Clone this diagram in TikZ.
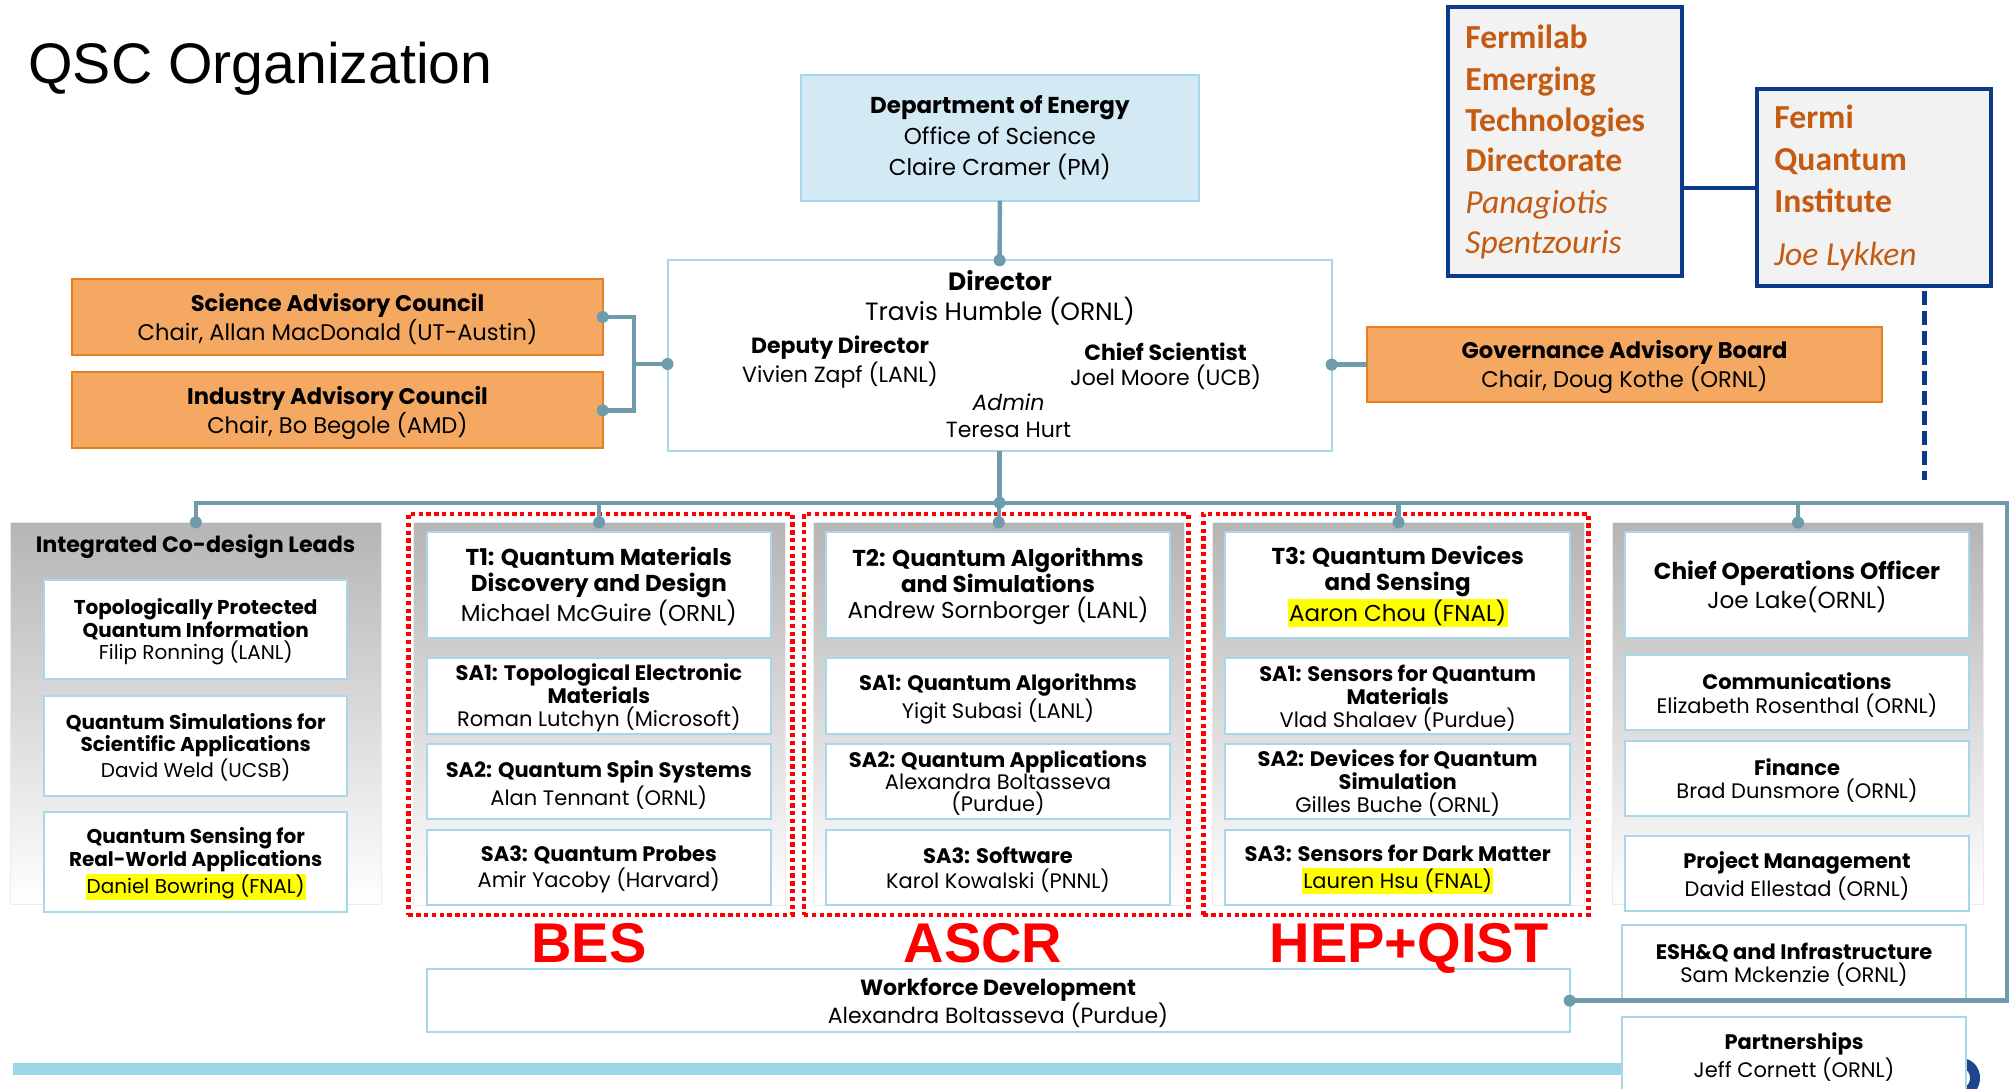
\documentclass[tikz,border=0pt]{standalone}
\usepackage{fontspec}
\setmainfont{Poppins}
\newfontfamily\arialf{Liberation Sans}
\newfontfamily\calib{Carlito}
\definecolor{connc}{HTML}{6F9CAD}
\definecolor{lbl}{HTML}{A8D6EA}
\definecolor{doefill}{HTML}{D3EAF5}
\definecolor{orfill}{HTML}{F4A862}
\definecolor{ordraw}{HTML}{E3801F}
\definecolor{navy}{HTML}{0B3A8C}
\definecolor{fermor}{HTML}{C55A11}
\definecolor{fermfill}{HTML}{F2F2F2}
\definecolor{pgray}{HTML}{B5B5B5}
\definecolor{hly}{HTML}{FFFF00}
\definecolor{redd}{HTML}{FF0000}
\definecolor{barblue}{HTML}{9ED5E9}
\definecolor{logoblue}{HTML}{1F4590}
\newcommand\fs[2]{\fontsize{#1}{#2}\selectfont}
\newcommand\hl[1]{{\setlength\fboxsep{0.6pt}\colorbox{hly}{#1}}}
\newcommand\rbox[6]{\node[#6,anchor=north west,minimum width={(#4-#2)*0.5pt},minimum height={(#5-#3)*0.5pt}] (#1) at (#2,#3) {};}
\tikzset{
  boxbase/.style={inner sep=0pt,outer sep=0pt,rectangle},
  lbbox/.style={boxbase,draw=lbl,line width=1pt,fill=white},
  doebox/.style={boxbase,draw=lbl,line width=1pt,fill=doefill},
  orbox/.style={boxbase,draw=ordraw,line width=1pt,fill=orfill},
  fermbox/.style={boxbase,draw=navy,line width=2pt,fill=fermfill},
  panel/.style={boxbase,top color=pgray,bottom color=white,draw=black!8,line width=0.5pt},
  reddots/.style={boxbase,draw=redd,line width=2.2pt,dash pattern=on 2.2pt off 1.7pt},
  connl/.style={draw=connc,line width=2.2pt},
  navyl/.style={draw=navy,line width=2pt},
  dot/.style={circle,fill=connc,inner sep=0pt,minimum size=6pt},
  txt/.style={inner sep=0pt,align=center,text=black},
  ferm/.style={inner sep=0pt,anchor=base west,text=fermor,font=\calib\fs{16.8}{20}},
  fermb/.style={ferm,font=\calib\bfseries\fs{16.8}{20}},
  fermi/.style={ferm,font=\calib\itshape\fs{16.8}{20}},
  bigred/.style={inner sep=0pt,anchor=base,text=redd,font=\arialf\bfseries\fs{28}{30}},
}
\begin{document}
\begin{tikzpicture}[x=0.5pt,y=-0.5pt]
\clip (0,0) rectangle (2009,1088);
\fill[white] (0,0) rectangle (2009,1088);
% title
\node[inner sep=0pt,anchor=base west,font=\arialf\fs{28.6}{32}] (title) at (28,83) {QSC Organization};
% top boxes
\rbox{doe}{801}{75}{1198.7}{200.7}{doebox}
\rbox{dir}{667.5}{260.3}{1331.7}{450.7}{lbbox}
\rbox{sac}{72.3}{279}{602.7}{355}{orbox}
\rbox{iac}{72.3}{372.3}{602.7}{448.3}{orbox}
\rbox{gov}{1367}{327.3}{1882}{402}{orbox}
\rbox{fetd}{1448}{7.3}{1682.4}{275.7}{fermbox}
\rbox{fqi}{1757}{89.3}{1990.7}{285.7}{fermbox}
% leads
\rbox{leads}{10.7}{522.3}{381}{904.3}{panel}
\rbox{l1}{44.3}{580}{347}{679.3}{lbbox}
\rbox{l2}{44.3}{696}{347}{795.7}{lbbox}
\rbox{l3}{44.3}{811.7}{347}{912}{lbbox}
% BES
\rbox{besR}{408.3}{514}{792.3}{915}{reddots}
\rbox{besP}{413.3}{522.3}{785}{905}{panel}
\rbox{t1}{426.7}{532.3}{771}{638}{lbbox}
\rbox{b1}{426.7}{658.3}{771}{734}{lbbox}
\rbox{b2}{426.7}{744}{771}{819.3}{lbbox}
\rbox{b3}{426.7}{830}{771}{905}{lbbox}
% ASCR
\rbox{ascrR}{804}{514}{1188.3}{915}{reddots}
\rbox{ascrP}{813.3}{522.3}{1184.3}{905}{panel}
\rbox{t2}{826}{532.3}{1170.3}{638}{lbbox}
\rbox{a1}{826}{658.3}{1170.3}{734}{lbbox}
\rbox{a2}{826}{744}{1170.3}{819.3}{lbbox}
\rbox{a3}{826}{830}{1170.3}{905}{lbbox}
% HEP
\rbox{hepR}{1203.3}{514}{1588.3}{915}{reddots}
\rbox{hepP}{1212.7}{522.3}{1584.3}{905}{panel}
\rbox{t3}{1225.3}{532.3}{1570}{638}{lbbox}
\rbox{h1}{1225.3}{658.3}{1570}{734}{lbbox}
\rbox{h2}{1225.3}{744}{1570}{819.3}{lbbox}
\rbox{h3}{1225.3}{830}{1570}{905}{lbbox}
% operations
\rbox{opsP}{1612.7}{522.6}{1983.3}{904.4}{panel}
\rbox{coo}{1625}{532.3}{1969.3}{638.1}{lbbox}
\rbox{comm}{1625}{655.2}{1969.3}{730}{lbbox}
\rbox{fin}{1625}{740.5}{1969.3}{815.7}{lbbox}
\rbox{pm}{1625}{835.8}{1969.3}{911.4}{lbbox}
\rbox{esh}{1622.3}{925}{1966}{999.4}{lbbox}
% bottom bar and logo fragment
\fill[barblue] (13,1062.7) rectangle (1622,1075);
\draw[logoblue,line width=5pt] (1960,1063) .. controls (1980,1063) and (1980,1093) .. (1960,1093);
\rbox{part}{1622.3}{1016.8}{1966}{1110}{lbbox}
\rbox{wf}{426.6}{969.3}{1569.7}{1032}{lbbox}
% connectors
\coordinate (busR) at (2006.7,502.7);
\coordinate (brk) at (634,364);
\draw[connl] (doe.south) -- (dir.north);
\draw[connl] (sac.east) -| (brk) |- (iac.east);
\draw[connl] (brk) -- (dir.west |- brk);
\draw[connl] (gov.west) -- (gov.west -| dir.east);
\draw[connl] (leads.north) |- (busR) |- (wf.east);
\draw[connl] (dir.south) -- (dir.south |- busR);
\draw[connl] (besP.north) -- (besP.north |- busR);
\draw[connl] (ascrP.north) -- (ascrP.north |- busR);
\draw[connl] (hepP.north) -- (hepP.north |- busR);
\draw[connl] (opsP.north) -- (opsP.north |- busR);
\node[dot] (dDoe) at (dir.north) {};
\node[dot] (dL) at (dir.west |- brk) {};
\node[dot] (dSac) at (sac.east) {};
\node[dot] (dIac) at (iac.east) {};
\node[dot] (dR) at (gov.west -| dir.east) {};
\node[dot] (dBus) at (dir.south |- busR) {};
\node[dot] (dLeads) at (leads.north) {};
\node[dot] (dBes) at (besP.north) {};
\node[dot] (dAscr) at (ascrP.north) {};
\node[dot] (dHep) at (hepP.north) {};
\node[dot] (dOps) at (opsP.north) {};
\node[dot] (dWf) at (wf.east) {};
% fermilab connectors
\draw[navyl] (fqi.west) -- (fqi.west -| fetd.east);
\coordinate (dtop) at (1924.5,291);
\coordinate (dbot) at (1924.5,480);
\draw[navy,line width=2.2pt,dash pattern=on 7pt off 3pt] (dtop) -- (dbot);
% texts top
\node[txt,font=\fs{11.5}{15.5}] (doeT) at (doe.center) {\textbf{Department of Energy}\\Office of Science\\Claire Cramer (PM)};
\node[txt,font=\fs{12.5}{15}] (dirT) at (1000,297.5) {\textbf{Director}\\Travis Humble (ORNL)};
\node[txt,font=\fs{11}{12.5}] (depT) at (840,362) {\textbf{Deputy Director}\\Vivien Zapf (LANL)};
\node[txt,font=\fs{11}{12.5}] (chfT) at (1165.6,366) {\textbf{Chief Scientist}\\Joel Moore (UCB)};
\node[txt,font=\fs{11}{13.5}] (admT) at (1008.5,415.5) {\textit{Admin}\\Teresa Hurt};
\node[txt,font=\fs{11.3}{12}] (sacT) at (337.5,319) {\textbf{Science Advisory Council}\\Chair, Allan MacDonald (UT-Austin)};
\node[txt,font=\fs{11.3}{12}] (iacT) at (337.5,413) {\textbf{Industry Advisory Council}\\Chair, Bo Begole (AMD)};
\node[txt,font=\fs{11.3}{12}] (govT) at (1624.5,367) {\textbf{Governance Advisory Board}\\Chair, Doug Kothe (ORNL)};
% fermilab texts
\node[fermb] (fe1) at (1465,48.3) {Fermilab};
\node[fermb] (fe2) at (1465,90.5) {Emerging};
\node[fermb] (fe3) at (1465,131) {Technologies};
\node[fermb] (fe4) at (1465,171) {Directorate};
\node[fermi] (fe5) at (1465,213) {Panagiotis};
\node[fermi] (fe6) at (1465,253.5) {Spentzouris};
\node[fermb] (fq1) at (1774,128.3) {Fermi};
\node[fermb] (fq2) at (1774,170.7) {Quantum};
\node[fermb] (fq3) at (1774,212.3) {Institute};
\node[fermi] (fq4) at (1774,265) {Joe Lykken};
% leads texts
\node[inner sep=0pt,anchor=base,font=\bfseries\fs{11.1}{12}] (leadsT) at (195.5,552.7) {Integrated Co-design Leads};
\node[txt,font=\fs{10}{11.25}] (l1T) at (195.7,632) {\textbf{Topologically Protected}\\\textbf{Quantum Information}\\Filip Ronning (LANL)};
\node[txt,font=\fs{10}{11.25}] (l2T) at (195.7,747.5) {\textbf{Quantum Simulations for}\\\textbf{Scientific Applications}\\David Weld (UCSB)};
\node[txt,font=\fs{10}{11.25}] (l3T) at (195.7,864) {\textbf{Quantum Sensing for}\\\textbf{Real-World Applications}\\\hl{Daniel Bowring (FNAL)}};
% BES texts
\node[txt,font=\fs{11.5}{13}] (t1T) at (598.8,586.5) {\textbf{T1: Quantum Materials}\\\textbf{Discovery and Design}\\Michael McGuire (ORNL)};
\node[txt,font=\fs{10.5}{11.5}] (b1T) at (598.8,698) {\textbf{SA1: Topological Electronic}\\\textbf{Materials}\\Roman Lutchyn (Microsoft)};
\node[txt,font=\fs{10.5}{12.2}] (b2T) at (598.8,785) {\textbf{SA2: Quantum Spin Systems}\\Alan Tennant (ORNL)};
\node[txt,font=\fs{10.5}{13.3}] (b3T) at (598.8,869.5) {\textbf{SA3: Quantum Probes}\\Amir Yacoby (Harvard)};
% ASCR texts
\node[txt,font=\fs{11.5}{13}] (t2T) at (998,586.5) {\textbf{T2: Quantum Algorithms}\\\textbf{and Simulations}\\Andrew Sornborger (LANL)};
\node[txt,font=\fs{10.5}{11.8}] (a1T) at (998,698.8) {\textbf{SA1: Quantum Algorithms}\\Yigit Subasi (LANL)};
\node[txt,font=\fs{10.5}{11}] (a2T) at (998,783.4) {\textbf{SA2: Quantum Applications}\\Alexandra Boltasseva\\(Purdue)};
\node[txt,font=\fs{10.5}{12.5}] (a3T) at (998,869.7) {\textbf{SA3: Software}\\Karol Kowalski (PNNL)};
% HEP texts
\node[txt,font=\fs{11.5}{13}] (t3T) at (1397.7,586.5) {\textbf{T3: Quantum Devices}\\\textbf{and Sensing}\\\hl{Aaron Chou (FNAL)}};
\node[txt,font=\fs{10.5}{11.5}] (h1T) at (1397.7,698) {\textbf{SA1: Sensors for Quantum}\\\textbf{Materials}\\Vlad Shalaev (Purdue)};
\node[txt,font=\fs{10.5}{11.5}] (h2T) at (1397.7,783.4) {\textbf{SA2: Devices for Quantum}\\\textbf{Simulation}\\Gilles Buche (ORNL)};
\node[txt,font=\fs{10.5}{13.3}] (h3T) at (1397.7,869.5) {\textbf{SA3: Sensors for Dark Matter}\\\hl{Lauren Hsu (FNAL)}};
% ops texts
\node[txt,font=\fs{11.6}{12.2}] (cooT) at (1797,586.8) {\textbf{Chief Operations Officer}\\Joe Lake(ORNL)};
\node[txt,font=\fs{10.5}{11.7}] (commT) at (1797,695) {\textbf{Communications}\\Elizabeth Rosenthal (ORNL)};
\node[txt,font=\fs{10.5}{11.7}] (finT) at (1797,780.5) {\textbf{Finance}\\Brad Dunsmore (ORNL)};
\node[txt,font=\fs{10.5}{11.7}] (pmT) at (1797,876) {\textbf{Project Management}\\David Ellestad (ORNL)};
\node[txt,font=\fs{10.5}{11.7}] (eshT) at (1794,964.5) {\textbf{ESH\&Q and Infrastructure}\\Sam Mckenzie (ORNL)};
\node[txt,font=\fs{10.5}{11.7}] (partT) at (1794,1057) {\textbf{Partnerships}\\Jeff Cornett (ORNL)};
\node[txt,font=\fs{11}{12.5}] (wfT) at (998,1003) {\textbf{Workforce Development}\\Alexandra Boltasseva (Purdue)};
% big labels
\node[bigred] (besL) at (589,962) {BES};
\node[bigred] (ascrL) at (983,962) {ASCR};
\node[bigred] (hepL) at (1409,962) {HEP+QIST};
\end{tikzpicture}
\end{document}
